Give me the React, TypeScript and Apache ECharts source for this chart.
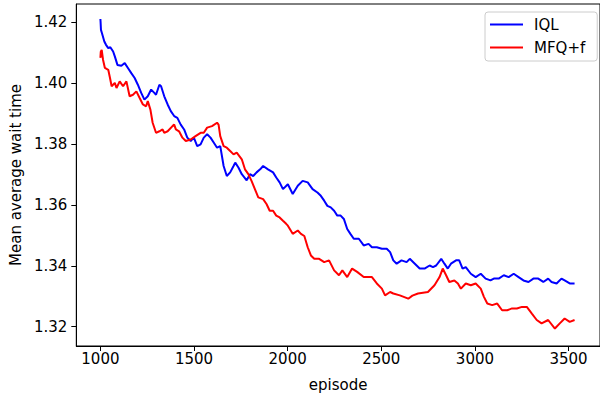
import React, { useEffect, useRef } from "react";
import * as echarts from "echarts";

const iqlEpisodes = [
  1000, 1001, 1003, 1008, 1021, 1030, 1042, 1053, 1068, 1077,
  1091, 1112, 1130, 1147, 1165, 1183, 1200, 1218, 1235, 1253,
  1271, 1288, 1297, 1315, 1324, 1341, 1359, 1376, 1394, 1411,
  1429, 1447, 1464, 1482, 1499, 1517, 1535, 1552, 1570, 1588,
  1605, 1623, 1640, 1658, 1675, 1693, 1711, 1720, 1737, 1755,
  1781, 1799, 1816, 1834, 1853, 1869, 1895, 1922, 1939, 1957,
  1975, 2001, 2027, 2054, 2080, 2107, 2133, 2159, 2177, 2195,
  2212, 2230, 2248, 2265, 2283, 2300, 2318, 2335, 2353, 2380,
  2406, 2432, 2450, 2476, 2503, 2529, 2547, 2564, 2582, 2608,
  2635, 2652, 2679, 2705, 2731, 2758, 2776, 2793, 2820, 2837,
  2855, 2872, 2899, 2916, 2934, 2951, 2978, 3004, 3031, 3057,
  3083, 3101, 3127, 3154, 3180, 3207, 3233, 3259, 3286, 3312,
  3338, 3365, 3391, 3409, 3436, 3462, 3479, 3506, 3532,
];
const iqlValues = [
  1.4211, 1.4201, 1.4175, 1.4165, 1.4137, 1.4126, 1.4115, 1.4118, 1.4104, 1.4088,
  1.4060, 1.4057, 1.4066, 1.4050, 1.4033, 1.4017, 1.3995, 1.3968, 1.3946, 1.3957,
  1.3979, 1.3968, 1.3962, 1.3995, 1.3990, 1.3957, 1.3930, 1.3908, 1.3892, 1.3886,
  1.3864, 1.3848, 1.3821, 1.3810, 1.3821, 1.3793, 1.3799, 1.3821, 1.3832, 1.3821,
  1.3805, 1.3788, 1.3793, 1.3728, 1.3695, 1.3707, 1.3728, 1.3739, 1.3723, 1.3701,
  1.3681, 1.3701, 1.3695, 1.3707, 1.3717, 1.3728, 1.3717, 1.3707, 1.3690, 1.3674,
  1.3652, 1.3668, 1.3636, 1.3663, 1.3679, 1.3674, 1.3652, 1.3641, 1.3630, 1.3614,
  1.3597, 1.3592, 1.3581, 1.3565, 1.3565, 1.3554, 1.3521, 1.3505, 1.3489, 1.3489,
  1.3467, 1.3472, 1.3461, 1.3461, 1.3456, 1.3456, 1.3445, 1.3418, 1.3407, 1.3418,
  1.3412, 1.3423, 1.3407, 1.3391, 1.3391, 1.3401, 1.3396, 1.3401, 1.3423, 1.3407,
  1.3391, 1.3407, 1.3418, 1.3418, 1.3391, 1.3396, 1.3374, 1.3363, 1.3374, 1.3358,
  1.3352, 1.3358, 1.3358, 1.3369, 1.3363, 1.3374, 1.3363, 1.3352, 1.3347, 1.3358,
  1.3358, 1.3347, 1.3358, 1.3347, 1.3342, 1.3358, 1.3352, 1.3342, 1.3342,
];

const mfqEpisodes = [
  1000, 1002, 1007, 1014, 1024, 1042, 1051, 1060, 1077, 1086,
  1103, 1121, 1139, 1156, 1174, 1192, 1209, 1227, 1244, 1253,
  1267, 1279, 1297, 1315, 1332, 1341, 1359, 1385, 1394, 1403,
  1420, 1438, 1456, 1482, 1508, 1535, 1552, 1570, 1596, 1623,
  1631, 1640, 1658, 1675, 1693, 1711, 1728, 1755, 1772, 1790,
  1807, 1825, 1843, 1869, 1887, 1904, 1922, 1939, 1957, 1975,
  1992, 2001, 2027, 2054, 2071, 2089, 2107, 2124, 2142, 2168,
  2195, 2221, 2248, 2274, 2292, 2318, 2344, 2371, 2406, 2450,
  2476, 2503, 2520, 2547, 2564, 2599, 2644, 2666, 2696, 2749,
  2784, 2811, 2828, 2846, 2863, 2890, 2909, 2925, 2951, 2978,
  3004, 3031, 3048, 3066, 3092, 3119, 3145, 3172, 3198, 3224,
  3251, 3277, 3304, 3330, 3356, 3391, 3427, 3453, 3479, 3506,
  3532,
];
const mfqValues = [
  1.4083, 1.4103, 1.4109, 1.4077, 1.4050, 1.4044, 1.4018, 1.3990, 1.4001, 1.3984,
  1.4006, 1.3990, 1.4006, 1.3957, 1.3962, 1.3973, 1.3952, 1.3930, 1.3924, 1.3941,
  1.3913, 1.3870, 1.3837, 1.3842, 1.3848, 1.3837, 1.3842, 1.3859, 1.3864, 1.3848,
  1.3842, 1.3821, 1.3810, 1.3815, 1.3826, 1.3837, 1.3837, 1.3854, 1.3859, 1.3870,
  1.3864, 1.3826, 1.3793, 1.3788, 1.3777, 1.3766, 1.3772, 1.3750, 1.3717, 1.3701,
  1.3679, 1.3652, 1.3625, 1.3619, 1.3603, 1.3581, 1.3581, 1.3565, 1.3559, 1.3548,
  1.3538, 1.3532, 1.3505, 1.3516, 1.3505, 1.3498, 1.3461, 1.3434, 1.3423, 1.3423,
  1.3412, 1.3418, 1.3385, 1.3369, 1.3385, 1.3363, 1.3391, 1.3380, 1.3363, 1.3363,
  1.3342, 1.3325, 1.3303, 1.3314, 1.3309, 1.3303, 1.3292, 1.3302, 1.3309, 1.3314,
  1.3336, 1.3363, 1.3391, 1.3369, 1.3347, 1.3352, 1.3342, 1.3325, 1.3342, 1.3336,
  1.3342, 1.3325, 1.3298, 1.3276, 1.3271, 1.3276, 1.3254, 1.3254, 1.3260, 1.3260,
  1.3265, 1.3265, 1.3243, 1.3222, 1.3211, 1.3222, 1.3194, 1.3211, 1.3227, 1.3216,
  1.3222,
];

const xTicks = [1000, 1500, 2000, 2500, 3000, 3500];
const yTicks = [1.32, 1.34, 1.36, 1.38, 1.4, 1.42];

const FONT = "DejaVu Sans";

export default function App() {
  const ref = useRef<HTMLDivElement>(null);

  useEffect(() => {
    if (!ref.current) return;
    const chart = echarts.init(ref.current, null, { renderer: "svg" });
    const axisText = { color: "#000", fontSize: 15, fontFamily: FONT };
    chart.setOption({
      animation: false,
      backgroundColor: "#fff",
      grid: {
        left: 76,
        top: 4,
        width: 530,
        height: 342,
        show: true,
        borderColor: "#000",
        borderWidth: 1,
        backgroundColor: "transparent",
      },
      legend: {
        orient: "vertical",
        left: 485,
        top: 12,
        padding: [5, 12, 6, 5],
        itemGap: 8,
        itemWidth: 33,
        itemHeight: 2,
        icon: "rect",
        backgroundColor: "rgba(255,255,255,0.8)",
        borderColor: "#cccccc",
        borderWidth: 1,
        borderRadius: 3,
        textStyle: { ...axisText, lineHeight: 15, padding: [0, 0, 0, 6] },
        data: ["IQL", "MFQ+f"],
      },
      xAxis: {
        type: "value",
        min: 871.3,
        max: 3667.8,
        name: "episode",
        nameLocation: "middle",
        nameGap: 31,
        nameTextStyle: axisText,
        axisLine: { show: true, onZero: false, lineStyle: { color: "#000", width: 1 } },
        axisTick: { show: true, length: 5, customValues: xTicks, lineStyle: { color: "#000", width: 1 } },
        axisLabel: { ...axisText, margin: 5, customValues: xTicks, formatter: (v: number) => String(v) },
        splitLine: { show: false },
      },
      yAxis: {
        type: "value",
        min: 1.31366,
        max: 1.42601,
        name: "Mean average wait time",
        nameLocation: "middle",
        nameGap: 52,
        nameRotate: 90,
        nameTextStyle: axisText,
        axisLine: { show: true, onZero: false, lineStyle: { color: "#000", width: 1 } },
        axisTick: { show: true, length: 5, customValues: yTicks, lineStyle: { color: "#000", width: 1 } },
        axisLabel: { ...axisText, margin: 9, customValues: yTicks, formatter: (v: number) => v.toFixed(2) },
        splitLine: { show: false },
      },
      series: [
        {
          name: "IQL",
          type: "line",
          symbol: "none",
          showSymbol: false,
          clip: true,
          color: "#0000ff",
          lineStyle: { color: "#0000ff", width: 2 },
          data: iqlEpisodes.map((e, i) => [e, iqlValues[i]]),
        },
        {
          name: "MFQ+f",
          type: "line",
          symbol: "none",
          showSymbol: false,
          clip: true,
          color: "#ff0000",
          lineStyle: { color: "#ff0000", width: 2 },
          data: mfqEpisodes.map((e, i) => [e, mfqValues[i]]),
        },
      ],
    });
    return () => chart.dispose();
  }, []);

  return (
    <div
      ref={ref}
      style={{ position: "absolute", left: 0, top: 0, width: 600, height: 400 }}
    />
  );
}
